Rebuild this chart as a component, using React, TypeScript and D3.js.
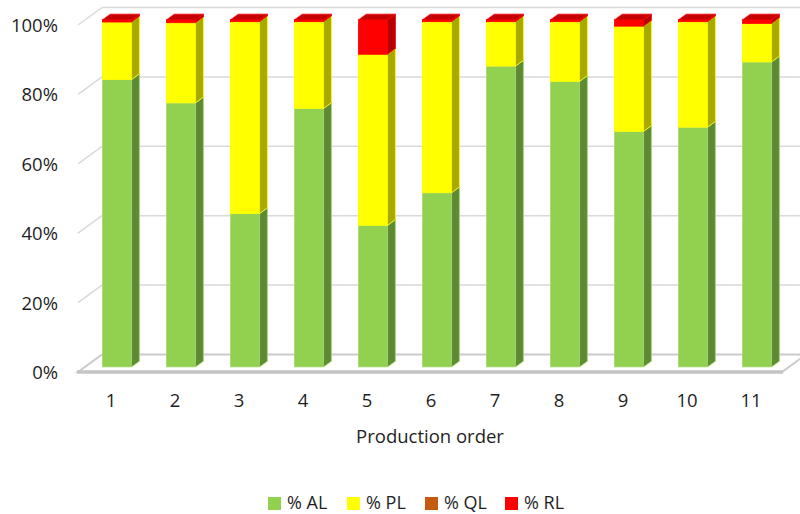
import React from "react";
import * as d3 from "d3";

const categories = ["1", "2", "3", "4", "5", "6", "7", "8", "9", "10", "11"];
const AL = [82.8, 76.1, 44.2, 74.5, 40.8, 50.2, 86.7, 82.3, 67.9, 69.1, 87.9];
const PL = [16.6, 23.1, 55.3, 25.0, 49.3, 49.3, 12.8, 17.2, 30.3, 30.4, 11.1];
const QL = [0, 0, 0, 0, 0, 0, 0, 0, 0, 0, 0];
const RL = [0.6, 0.8, 0.5, 0.5, 9.9, 0.5, 0.5, 0.5, 1.8, 0.5, 1.0];
const seriesNames = ["% AL", "% PL", "% QL", "% RL"];
const yTicks = [0, 0.2, 0.4, 0.6, 0.8, 1.0];

const colors = [
  { front: "#92D050", side: "#5E8A33", top: "#A9DA74", edge: "#A9DA74" },
  { front: "#FFFF00", side: "#A8A800", top: "#FFFF00", edge: "#FFFF00" },
  { front: "#C55A11", side: "#8A3F0C", top: "#D0703A", edge: "#D0703A" },
  { front: "#FF0000", side: "#B40000", top: "#C40000", edge: "#FF0000" },
];

const FONT = "'Open Sans', sans-serif";
const TEXT = "#1f1f1f";

export default function App() {
  const W = 800, H = 514;
  const left = 78, right = 782;
  const DX = 24, DY = -17.5;
  const x = d3.scaleBand<string>().domain(categories).range([left, right]).paddingInner(0).paddingOuter(0);
  const y = d3.scaleLinear().domain([0, 1]).range([372, 25]);

  const rows = categories.map((c, i) => ({ cat: c, AL: AL[i] / 100, PL: PL[i] / 100, QL: QL[i] / 100, RL: RL[i] / 100 }));
  const stack = d3.stack<any>().keys(["AL", "PL", "QL", "RL"]);
  const stacked = stack(rows);

  const bw = x.bandwidth() * 0.455;
  const t0 = 0.29, t1 = 0.62;
  const ddx = (t1 - t0) * DX, ddy = (t1 - t0) * DY;

  const pts = (p: number[][]) => p.map((q) => q.join(",")).join(" ");

  const bars: React.ReactNode[] = [];
  categories.forEach((c, i) => {
    const cx = (x(c) as number) + x.bandwidth() / 2;
    const fx0 = cx - bw / 2 + t0 * DX;
    const fx1 = fx0 + bw;
    const oy = t0 * DY;
    stacked.forEach((s, si) => {
      const [v0, v1] = s[i];
      if (v1 - v0 <= 0) return;
      const yb = y(v0) + oy;
      const yt = y(v1) + oy;
      const col = colors[si];
      bars.push(
        <g key={`${c}-${si}`}>
          <rect x={fx0} y={yt} width={bw} height={yb - yt} fill={col.front} stroke={col.edge} strokeWidth={0.8} />
          <polygon points={pts([[fx1, yb], [fx1 + ddx, yb + ddy], [fx1 + ddx, yt + ddy], [fx1, yt]])} fill={col.side} stroke={col.edge} strokeWidth={0.8} />
          <polygon points={pts([[fx0, yt], [fx1, yt], [fx1 + ddx, yt + ddy], [fx0 + ddx, yt + ddy]])} fill={col.top} stroke={col.edge} strokeWidth={0.8} />
        </g>
      );
    });
  });

  const legendX = [268, 347, 425, 505];

  return (
    <svg width={W} height={H} style={{ position: "absolute", left: 0, top: 0, background: "#fff" }} fontFamily={FONT}>
      {yTicks.filter((t) => t > 0).map((t) => (
        <g key={t} stroke="#d9d9d9" strokeWidth={1.5} fill="none">
          <line x1={left} y1={y(t)} x2={left + DX} y2={y(t) + DY} />
          <line x1={left + DX} y1={y(t) + DY} x2={W} y2={y(t) + DY} />
        </g>
      ))}
      <polygon points={pts([[left, y(0)], [right, y(0)], [right + DX, y(0) + DY], [left + DX, y(0) + DY]])} fill="#fff" stroke="#cacaca" strokeWidth={2} />
      <line x1={left - 1} y1={y(0)} x2={right + 1} y2={y(0)} stroke="#c4c4c4" strokeWidth={3.5} />
      {bars}
      {yTicks.map((t) => (
        <text key={t} x={58} y={y(t) + 7} textAnchor="end" fontSize={18.5} fill={TEXT}>
          {d3.format(".0%")(t)}
        </text>
      ))}
      {categories.map((c) => (
        <text key={c} x={(x(c) as number) + x.bandwidth() / 2 + 1} y={407} textAnchor="middle" fontSize={18.5} fill={TEXT}>
          {c}
        </text>
      ))}
      <text x={(left + right) / 2} y={443} textAnchor="middle" fontSize={18.5} fill={TEXT}>Production order</text>
      {seriesNames.map((n, i) => (
        <g key={n}>
          <rect x={legendX[i]} y={497} width={13} height={13} fill={colors[i].front} />
          <text x={legendX[i] + 19} y={509} fontSize={18} fill={TEXT}>{n}</text>
        </g>
      ))}
    </svg>
  );
}
